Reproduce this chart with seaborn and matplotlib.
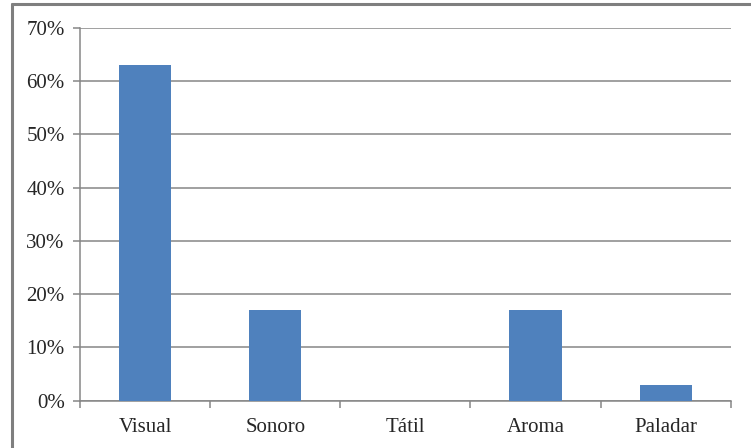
import matplotlib
matplotlib.use("Agg")
import matplotlib.pyplot as plt
from matplotlib.lines import Line2D
from matplotlib.ticker import FixedLocator, PercentFormatter
import seaborn as sns
import pandas as pd

# Percentage of responses per sense
categories = ["Visual", "Sonoro", "Tátil", "Aroma", "Paladar"]
values = [63, 17, 0, 17, 3]
y_ticks = [0, 10, 20, 30, 40, 50, 60, 70]

sns.set_style("white")
plt.rcParams["font.family"] = ["Liberation Serif", "DejaVu Serif"]

df = pd.DataFrame({"sentido": categories, "pct": values})

fig = plt.figure(figsize=(7.51, 4.48), dpi=100)
ax = fig.add_axes([0.1065, 0.1056, 0.973 - 0.1065, 0.9375 - 0.1056])

sns.barplot(data=df, x="sentido", y="pct", color="#4F81BD", width=0.4,
            saturation=1, linewidth=0, ax=ax, zorder=3)

grid_col = "#868686"
ax.set_ylim(0, 70)
ax.set_xlim(-0.5, len(categories) - 0.5)
ax.yaxis.set_major_locator(FixedLocator(y_ticks))
ax.yaxis.set_major_formatter(PercentFormatter(decimals=0))
ax.yaxis.grid(True, color=grid_col, linewidth=1.1, zorder=0)
ax.set_axisbelow(True)

# category separators as minor ticks on the x axis
ax.xaxis.set_minor_locator(FixedLocator([i - 0.5 for i in range(len(categories) + 1)]))
ax.tick_params(axis="x", which="major", length=0, pad=12.5, labelsize=15)
ax.tick_params(axis="x", which="minor", length=5, width=1.1, color=grid_col, direction="out", bottom=True)
ax.tick_params(axis="y", which="major", length=5, width=1.1, color=grid_col, direction="out",
               left=True, pad=6, labelsize=15)

for side in ("top", "right"):
    ax.spines[side].set_visible(False)
for side in ("left", "bottom"):
    ax.spines[side].set_color(grid_col)
    ax.spines[side].set_linewidth(1.1)

ax.set_xlabel("")
ax.set_ylabel("")

# outer chart frame
frame_col = "#7f7f7f"
fig.add_artist(Line2D([12 / 751, 12 / 751], [0, 1 - 4.5 / 448], transform=fig.transFigure,
                      color=frame_col, linewidth=2.2))
fig.add_artist(Line2D([12 / 751, 1], [1 - 4.5 / 448, 1 - 4.5 / 448], transform=fig.transFigure,
                      color=frame_col, linewidth=2.2))

fig.savefig("out.png", dpi=100)
